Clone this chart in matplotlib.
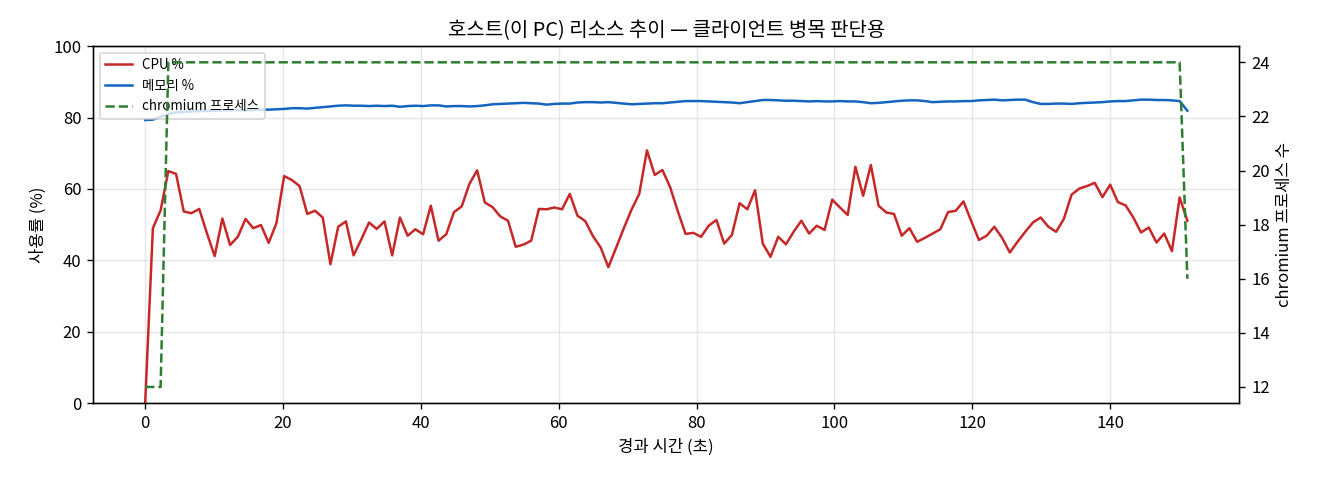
import numpy as np
import matplotlib
matplotlib.use("Agg")
import matplotlib.pyplot as plt

plt.rcParams['font.family'] = ['Noto Sans CJK KR', 'DejaVu Sans']

# CPU % per sample
cpu = [0.0, 49.0, 54.0, 65.0, 64.2, 53.7, 53.2, 54.4, 47.6, 41.2,
       51.7, 44.3, 46.6, 51.6, 49.0, 49.9, 44.9, 50.4, 63.6, 62.5,
       60.8, 53.0, 53.9, 52.0, 38.9, 49.4, 50.9, 41.4, 45.9, 50.6,
       48.8, 50.9, 41.4, 52.0, 46.9, 48.7, 47.3, 55.3, 45.5, 47.3,
       53.5, 55.1, 61.4, 65.2, 56.2, 54.9, 52.3, 51.1, 43.8, 44.4,
       45.5, 54.4, 54.3, 54.8, 54.3, 58.6, 52.5, 51.0, 46.8, 43.6,
       38.1, 43.5, 49.0, 54.2, 58.6, 70.8, 63.9, 65.3, 60.5, 53.7,
       47.4, 47.7, 46.6, 49.7, 51.3, 44.7, 47.1, 56.0, 54.3, 59.6,
       44.7, 41.0, 46.6, 44.5, 48.0, 51.1, 47.5, 49.7, 48.5, 57.0,
       54.8, 52.7, 66.2, 58.1, 66.7, 55.3, 53.4, 53.0, 46.9, 49.0,
       45.2, 46.3, 47.5, 48.7, 53.5, 53.9, 56.5, 51.0, 45.7, 46.9,
       49.4, 46.3, 42.2, 45.2, 48.0, 50.6, 52.0, 49.4, 48.0, 51.6,
       58.4, 60.1, 60.8, 61.7, 57.7, 61.2, 56.3, 55.4, 52.0, 47.8,
       49.2, 45.0, 47.5, 42.6, 57.6, 51.1]

# memory % per sample
mem = [79.3, 79.4, 80.2, 81.0, 81.4, 81.6, 81.7, 81.8, 81.8, 81.9,
       82.0, 82.0, 82.1, 82.0, 82.1, 82.2, 82.2, 82.3, 82.4, 82.6,
       82.6, 82.5, 82.7, 82.9, 83.1, 83.3, 83.4, 83.3, 83.3, 83.2,
       83.3, 83.2, 83.3, 83.0, 83.2, 83.3, 83.2, 83.4, 83.4, 83.1,
       83.2, 83.2, 83.1, 83.2, 83.4, 83.7, 83.8, 83.9, 84.0, 84.1,
       84.0, 83.9, 83.6, 83.8, 83.9, 83.9, 84.2, 84.3, 84.3, 84.2,
       84.3, 84.1, 83.9, 83.7, 83.8, 83.9, 84.0, 84.0, 84.2, 84.4,
       84.6, 84.6, 84.6, 84.5, 84.4, 84.3, 84.2, 84.0, 84.3, 84.6,
       84.9, 84.9, 84.8, 84.7, 84.7, 84.6, 84.5, 84.6, 84.5, 84.5,
       84.6, 84.5, 84.5, 84.3, 84.0, 84.1, 84.3, 84.5, 84.7, 84.8,
       84.8, 84.6, 84.3, 84.4, 84.5, 84.5, 84.6, 84.6, 84.8, 84.9,
       85.0, 84.8, 84.9, 85.0, 85.0, 84.3, 83.8, 83.8, 83.9, 83.9,
       83.8, 84.0, 84.1, 84.2, 84.3, 84.5, 84.6, 84.6, 84.8, 85.0,
       85.0, 84.9, 84.9, 84.8, 84.6, 81.9]

# chromium process count per sample
procs = [12, 12, 12] + [24] * 132 + [16]

# sample clock: ~1.12 s between samples, last one at 151.2 s
t = np.linspace(0, 151.2, len(cpu))

fig, ax = plt.subplots(figsize=(11, 4), dpi=120)
l1, = ax.plot(t, cpu, color="#c62828", lw=1.5, label="CPU %")
l2, = ax.plot(t, mem, color="#1565c0", lw=1.5, label="메모리 %")
ax.set_ylim(0, 100)
ax.set_xlabel("경과 시간 (초)")
ax.set_ylabel("사용률 (%)")
ax.grid(alpha=0.3)

ax2 = ax.twinx()
l3, = ax2.plot(t, procs, color="#2e7d32", lw=1.5, ls="--", label="chromium 프로세스")
ax2.set_ylabel("chromium 프로세스 수")

ax.legend(handles=[l1, l2, l3], loc="upper left", fontsize=8)
ax.set_title("호스트(이 PC) 리소스 추이 — 클라이언트 병목 판단용")

fig.subplots_adjust(left=0.0705, right=0.939, top=0.904, bottom=0.16)
fig.savefig("out.png")
